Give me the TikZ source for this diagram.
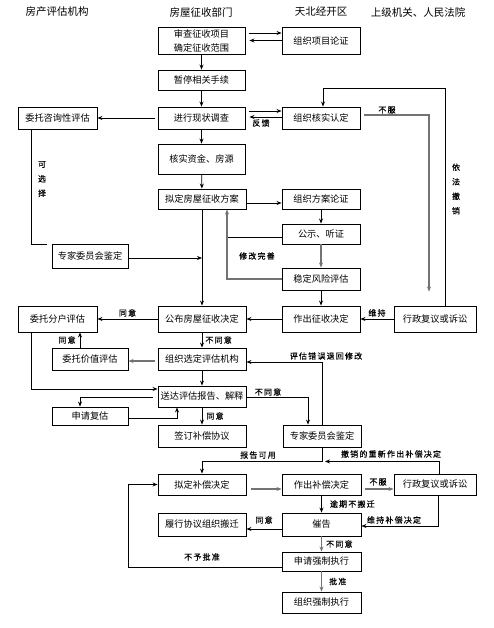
\documentclass[tikz,border=0pt]{standalone}
\usepackage{fontspec}
\setmainfont{Noto Sans CJK SC}
\newfontfamily\labfont[LetterSpace=15,FakeBold=0.4]{Noto Sans CJK SC}
\usetikzlibrary{arrows.meta,calc}
\tikzset{
  box/.style={draw, line width=0.9pt, inner sep=0pt, align=center, font=\fontsize{9.2}{14}\selectfont},
  hdr/.style={inner sep=0pt, font=\fontsize{10.5}{12}\selectfont},
  lab/.style={inner sep=0pt, font=\labfont\fontsize{8}{9}\selectfont},
  vlab/.style={inner sep=0pt, align=center, font=\labfont\fontsize{8}{14.5}\selectfont},
  ln/.style={line width=0.8pt},
  arr/.style={line width=0.8pt, -{Stealth[length=5pt,width=4pt]}},
  garr/.style={line width=1.3pt, draw=black!55, -{Stealth[length=5pt,width=4pt]}},
  gln/.style={line width=1.3pt, draw=black!55},
}
\begin{document}
\begin{tikzpicture}[x=1pt,y=-1pt]
\useasboundingbox[fill=white] (0,0) rectangle (493,628);

% headers
\node[hdr] (h1) at (57,12) {房产评估机构};
\node[hdr] (h2) at (201,12) {房屋征收部门};
\node[hdr] (h3) at (321,12) {天北经开区};
\node[hdr] (h4) at (418,12) {上级机关、人民法院};

% column B
\node[box, minimum width=87pt, minimum height=27pt] (B1) at (201.5,40.5) {审查征收项目\\确定征收范围};
\node[box, minimum width=87pt, minimum height=20pt] (B2) at (201.5,80) {暂停相关手续};
\node[box, minimum width=87pt, minimum height=22pt] (B3) at (201.5,118) {进行现状调查};
\node[box, minimum width=87pt, minimum height=30pt] (B4) at (201.5,159) {核实资金、房源};
\node[box, minimum width=88pt, minimum height=20pt] (B5) at (202,199) {拟定房屋征收方案};
\node[box, minimum width=88pt, minimum height=26pt] (B6) at (202,319) {公布房屋征收决定};
\node[box, minimum width=88pt, minimum height=22pt] (B7) at (202,359) {组织选定评估机构};
\node[box, minimum width=88pt, minimum height=21pt] (B8) at (202,396.5) {送达评估报告、解释};
\node[box, minimum width=88pt, minimum height=22pt] (B9) at (202,436) {签订补偿协议};
\node[box, minimum width=88pt, minimum height=21pt] (B10) at (202,484.5) {拟定补偿决定};
\node[box, minimum width=88pt, minimum height=23pt] (B11) at (202,524.5) {履行协议组织搬迁};

% column C
\node[box, minimum width=78pt, minimum height=27pt] (C1) at (321,40.5) {组织项目论证};
\node[box, minimum width=78pt, minimum height=22pt] (C2) at (321,118) {组织核实认定};
\node[box, minimum width=78pt, minimum height=20pt] (C3) at (321,199) {组织方案论证};
\node[box, minimum width=78pt, minimum height=20pt] (C4) at (321,234) {公示、听证};
\node[box, minimum width=78pt, minimum height=22pt] (C5) at (321,279) {稳定风险评估};
\node[box, minimum width=78pt, minimum height=26pt] (C6) at (321,319) {作出征收决定};
\node[box, minimum width=78pt, minimum height=22pt] (C7) at (322,436) {专家委员会鉴定};
\node[box, minimum width=79pt, minimum height=21pt] (C8) at (321.5,484.5) {作出补偿决定};
\node[box, minimum width=79pt, minimum height=23pt] (C9) at (321.5,524.5) {催告};
\node[box, minimum width=79pt, minimum height=19pt] (C10) at (321.5,561.5) {申请强制执行};
\node[box, minimum width=79pt, minimum height=21pt] (C11) at (321.5,602.5) {组织强制执行};

% column D
\node[box, minimum width=82pt, minimum height=26pt] (D1) at (435,319) {行政复议或诉讼};
\node[box, minimum width=82pt, minimum height=21pt] (D2) at (435,484.5) {行政复议或诉讼};

% column A
\node[box, minimum width=79pt, minimum height=22pt] (A1) at (57.5,118) {委托咨询性评估};
\node[box, minimum width=76pt, minimum height=24pt] (A2) at (90,256) {专家委员会鉴定};
\node[box, minimum width=79pt, minimum height=26pt] (A3) at (57.5,319) {委托分户评估};
\node[box, minimum width=76pt, minimum height=22pt] (A4) at (90,359) {委托价值评估};
\node[box, minimum width=76pt, minimum height=18pt] (A5) at (90,416) {申请复估};

% --- connectors
\draw[arr] (B1) -- (B2);
\draw[arr] ([xshift=4pt,yshift=7.5pt]B1.east) -- ([yshift=7.5pt]C1.west);
\draw[arr] ([yshift=0pt]C1.west) -- ([xshift=4pt]B1.east);
\draw[arr] (B2) -- (B3);
\draw[arr] ([xshift=-3pt]B3.west) -- (A1.east);
\draw[arr] ([xshift=4pt,yshift=7pt]B3.east) -- ([yshift=7pt]C2.west);
\draw[arr] ([yshift=1pt]C2.west) -- ([xshift=4pt,yshift=1pt]B3.east);
\node[lab] (lbl0) at (261,123) {反馈};
\draw[arr] (B3) -- (B4);
\draw[arr] (B4) -- (B5);

% 不服 -> D1
\draw[garr, shorten >=14pt] ([xshift=4pt,yshift=3pt]C2.east) -| ([xshift=-6pt]D1.north);
\node[lab] (lbl00) at (387,110) {不服};
% 依法撤销
\coordinate (k1) at (323,88);
\draw[arr] ([xshift=10pt]D1.north) |- (k1) -- ([xshift=2pt]C2.north);
\node[vlab] (lbl1) at (456,189) {依\\法\\撤\\销};

% 可选择
\draw[ln] ([xshift=-26.5pt]A1.south) |- ([xshift=-5pt,yshift=-1pt]A2.north west);
\node[vlab] (lbl2) at (42,179) {可\\选\\择};
\draw[arr] ([yshift=-2pt]A2.east) -- ([yshift=-2pt]A2.east -| B5.south);

\draw[arr] (B5) -- (B6);
\draw[arr] ([yshift=-4pt]B5.east) -- ([yshift=-4pt]C3.west);
\draw[arr] (C3) -- (C4);
\draw[garr] (C4) -- (C5);
\draw[arr] (C5) -- (C6);

% 修改完善
\coordinate (fbx) at ([xshift=25pt]B5.south);
\draw[ln] ([yshift=-3pt]C4.west) -- ([yshift=-3pt]C4.west -| fbx);
\draw[garr] (C5.west) -| (fbx);
\node[lab] (lbl3) at (257,256) {修改完善};

\draw[arr] (C6) -- (B6);
\draw[arr] (D1) -- node[lab, above, yshift=2pt] {维持} (C6);
\draw[arr] (B6.west) -- node[lab, above, pos=0.5, yshift=2pt] {同意} (A3.east);
\draw[arr] (B6) -- node[lab, right, xshift=3pt] {不同意} (B7);
\draw[garr] ([xshift=-3pt,yshift=-2pt]B7.west) -- ([yshift=-2pt]A4.east);
\draw[arr] ([xshift=-10pt]A4.north) -- node[lab, left, xshift=-4pt] {同意} ([xshift=22.5pt]A3.south);

% 评估错误退回修改
\draw[arr] (C7.north) |- ([yshift=-3pt]B7.east);
\node[lab] (lbl4) at (326,356) {评估错误退回修改};

\draw[arr] ([xshift=-26.5pt]A3.south) |- ([yshift=7.5pt]B8.west);
\draw[arr] (B7) -- (B8);
\draw[arr] ([xshift=-5pt,yshift=-0.5pt]B8.west) -| ([xshift=-10pt]A5.north);
\draw[arr] ([yshift=-2pt]A5.east) -| ([xshift=-25pt]B8.south);
\draw[arr] (B8) -- node[lab, right, xshift=4pt] {同意} (B9);
\draw[arr] ([yshift=-0.5pt]B8.east) -| ([xshift=-14pt]C7.north);
\node[lab] (lbl5) at (268,392) {不同意};

% 报告可用
\coordinate (k2) at ($(C7.south)+(0,14)$);
\draw[arr] (C7.south) -- (k2) -| (B10.north);
\node[lab] (lbl6) at (258,455) {报告可用};
\draw[arr] ([xshift=4pt]D2.north) |- ([xshift=3pt]k2);
\node[lab] (lbl7) at (391,454) {撤销的重新作出补偿决定};

\draw[garr] ([xshift=5pt,yshift=-4.5pt]B10.east) -- ([yshift=-4.5pt]C8.west);
\draw[garr] ([xshift=4pt,yshift=-4.5pt]C8.east) -- ([yshift=-4.5pt]D2.west);
\node[lab] (lbl8) at (378,482) {不服};
\draw[arr] (C8) -- node[lab, right, xshift=8pt] {逾期不搬迁} (C9);
\draw[arr] ([xshift=3pt]D2.south) |- ([yshift=-1.5pt]C9.east);
\node[lab] (lbl9) at (394,520) {维持补偿决定};
\draw[arr] ([yshift=-4.5pt]C9.west) -- ([yshift=-4.5pt]B11.east);
\node[lab] (lbl10) at (264,520) {同意};
\draw[garr] (C9) -- node[lab, right, xshift=4pt] {不同意} (C10);
\draw[arr] ([yshift=-5.5pt]C10.west) -- ++(-153,0) |- (B10.west);
\node[lab] (lbl11) at (202,557) {不予批准};
\draw[garr] (C10) -- node[lab, right, xshift=7pt] {批准} (C11);
\end{tikzpicture}
\end{document}
